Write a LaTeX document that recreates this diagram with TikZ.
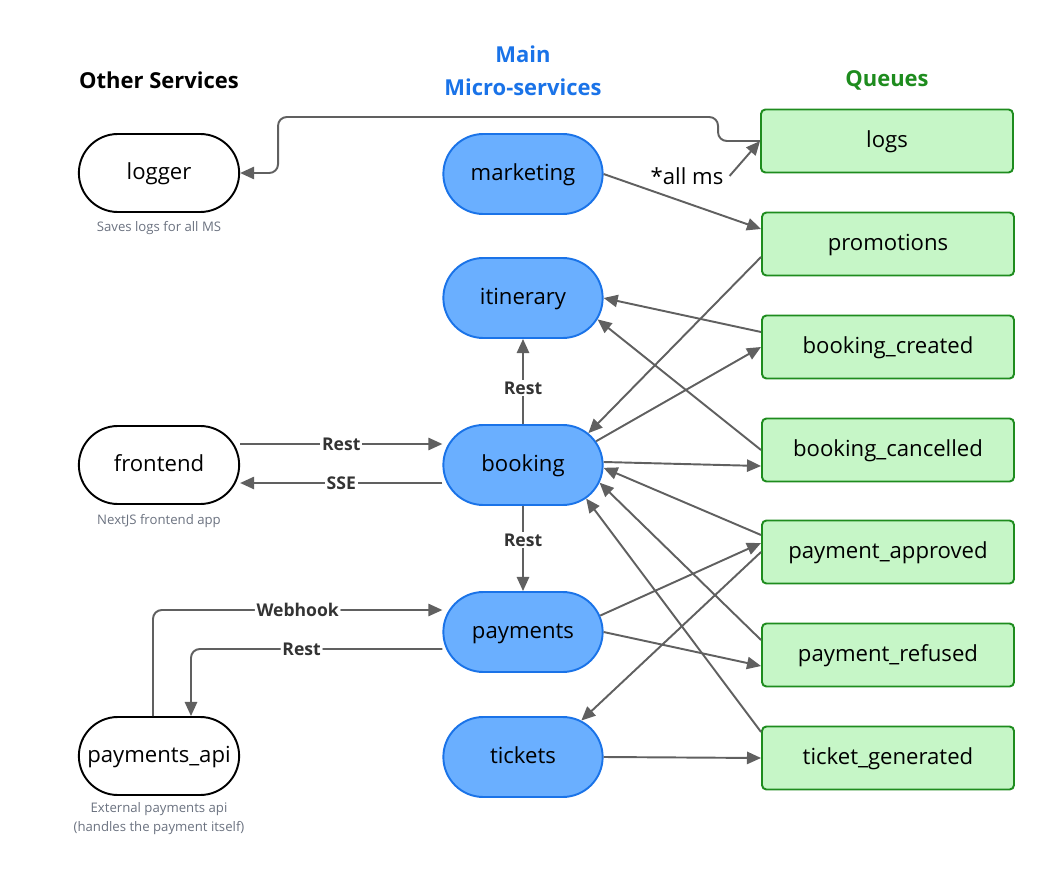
\documentclass[tikz,border=0pt]{standalone}
\usepackage{fontspec}
\setmainfont{Open Sans}
\usepackage{tikz}
\usetikzlibrary{shapes.misc,arrows.meta}

\definecolor{msblue}{HTML}{6AAFFF}
\definecolor{msedge}{HTML}{1A73E8}
\definecolor{qgreen}{HTML}{C6F6C7}
\definecolor{qedge}{HTML}{1E8C1E}
\definecolor{flowgray}{HTML}{606060}
\definecolor{notegray}{HTML}{6B7280}

\tikzset{
  ms/.style={rounded rectangle, draw=msedge, fill=msblue, line width=1.1pt,
    minimum width=3.42cm, minimum height=1.6cm, text height=9.4pt, text depth=2.2pt,
    font=\fontsize{12.6}{15}\selectfont},
  svc/.style={rounded rectangle, draw=black, fill=white, line width=1.1pt,
    minimum width=3.44cm, minimum height=1.56cm, text height=9.4pt, text depth=2.2pt,
    font=\fontsize{12.6}{15}\selectfont},
  queue/.style={rectangle, rounded corners=2.5pt, draw=qedge, fill=qgreen, line width=1.1pt,
    minimum width=5.04cm, minimum height=1.26cm, text height=9.4pt, text depth=2.2pt,
    font=\fontsize{12.6}{15}\selectfont},
  flow/.style={draw=flowgray, line width=1.1pt, -{Triangle[length=8pt,width=7pt]}},
  lbl/.style={fill=white, inner sep=1pt, text=black!80, font=\bfseries\fontsize{10}{12}\selectfont},
  note/.style={text=notegray, align=center, font=\fontsize{7.5}{10.8}\selectfont},
  head/.style={align=center, font=\bfseries\fontsize{12.5}{18.8}\selectfont}
}

\begin{document}
\begin{tikzpicture}[x=2cm,y=-2cm]
\useasboundingbox (0,0) rectangle (10.55,8.82);

\path (1.59,0.80) node[head] (hother) {Other Services}
		(5.23,0.705) node[head,text=msedge] (hmain) {Main\\Micro-services}
		(8.87,0.80) node[head,text=qedge] (hqueues) {Queues}
		(1.59,1.73) node[svc] (logger) {logger}
		(1.59,4.65) node[svc] (frontend) {frontend}
		(1.59,7.56) node[svc] (paymentsapi) {payments\_api}
		(1.59,2.28) node[note] (loggernote) {Saves logs for all MS}
		(1.59,5.21) node[note] (frontendnote) {NextJS frontend app}
		(1.59,8.185) node[note] (paymentsapinote) {External payments api\\(handles the payment itself)}
		(5.23,1.74) node[ms] (marketing) {marketing}
		(5.23,2.98) node[ms] (itinerary) {itinerary}
		(5.23,4.65) node[ms] (booking) {booking}
		(5.23,6.32) node[ms] (payments) {payments}
		(5.23,7.57) node[ms] (tickets) {tickets}
		(8.87,1.41) node[queue] (logs) {logs}
		(8.88,2.44) node[queue] (promotions) {promotions}
		(8.88,3.47) node[queue] (bkcreated) {booking\_created}
		(8.88,4.50) node[queue] (bkcancelled) {booking\_cancelled}
		(8.88,5.52) node[queue] (payapproved) {payment\_approved}
		(8.88,6.55) node[queue] (payrefused) {payment\_refused}
		(8.88,7.58) node[queue] (ticketgen) {ticket\_generated}
		(6.87,1.76) node[font=\fontsize{12.6}{15}\selectfont] (allms) {*all ms};

% other services
\draw[flow, rounded corners=5pt] (logs.west) -- ++(-0.42,0) -- ++(0,-0.24) -- ++(-4.40,0) |- (logger.east);
\draw[flow] ([yshift=0.42cm]frontend.east) -- node[lbl] {Rest} ([yshift=0.42cm]booking.west);
\draw[flow] ([yshift=-0.36cm]booking.west) -- node[lbl] {SSE} ([yshift=-0.36cm]frontend.east);
\draw[flow, rounded corners=5pt] ([xshift=-0.12cm]paymentsapi.north) |- node[lbl, pos=0.75] {Webhook} ([yshift=0.44cm]payments.west);
\draw[flow, rounded corners=5pt] ([yshift=-0.34cm]payments.west) -| node[lbl, pos=0.28] {Rest} ([xshift=0.64cm]paymentsapi.north);

% between micro-services
\draw[flow] (booking.north) -- node[lbl, pos=0.42] {Rest} (itinerary.south);
\draw[flow] (booking.south) -- node[lbl, pos=0.4] {Rest} (payments.north);

% queues
\draw[flow] (allms.east) -- (logs.west);
\draw[flow] (marketing.east) -- ([yshift=0.30cm]promotions.west);
\draw[flow] ([yshift=-0.26cm]promotions.west) -- (booking.26);
\draw[flow] ([yshift=0.30cm]bkcreated.west) -- (itinerary.east);
\draw[flow] (booking.18) -- (bkcreated.west);
\draw[flow] (bkcancelled.west) -- (itinerary.-16);
\draw[flow] ([yshift=0.06cm]booking.east) -- ([yshift=-0.32cm]bkcancelled.west);
\draw[flow] ([yshift=0.34cm]payapproved.west) -- (booking.-2);
\draw[flow] (payments.12) -- ([yshift=0.18cm]payapproved.west);
\draw[flow] (payapproved.west) -- (tickets.32);
\draw[flow] ([yshift=0.30cm]payrefused.west) -- (booking.-13);
\draw[flow] (payments.east) -- ([yshift=-0.22cm]payrefused.west);
\draw[flow] ([yshift=0.52cm]ticketgen.west) -- (booking.-28);
\draw[flow] (tickets.east) -- (ticketgen.west);
\end{tikzpicture}
\end{document}
